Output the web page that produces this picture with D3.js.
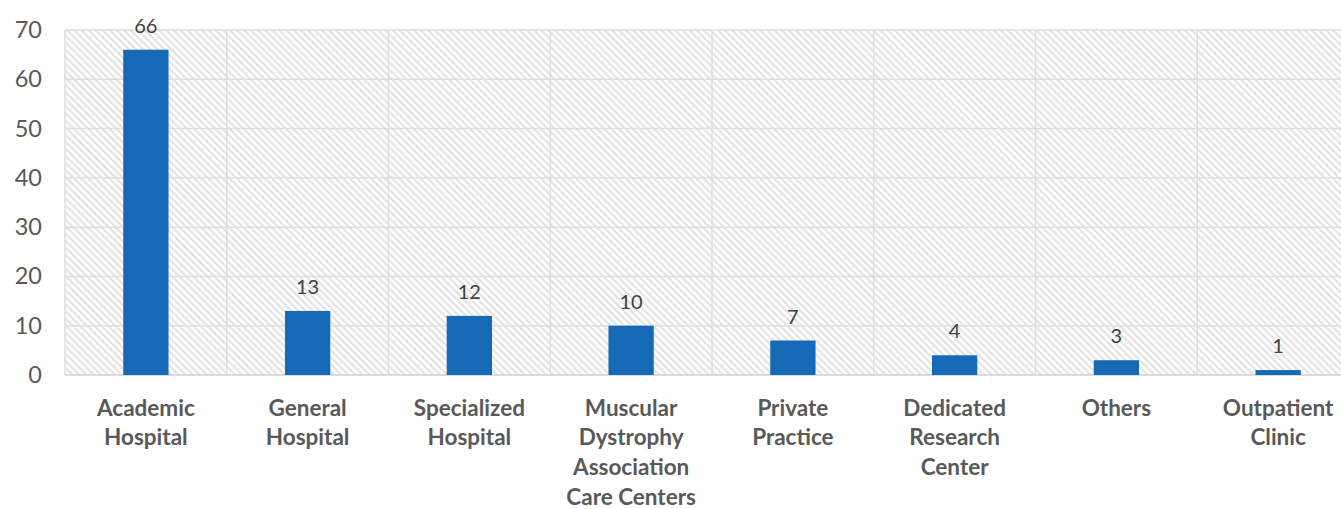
<!DOCTYPE html>
<html>
<head>
<meta charset="utf-8">
<script src="https://cdn.jsdelivr.net/npm/d3@7"></script>
<style>
  html, body { margin: 0; padding: 0; background: #fff; }
  svg { display: block; }
  text { font-family: Lato, "Noto Sans", sans-serif; }
</style>
</head>
<body>
<svg id="chart" width="1341" height="509"></svg>
<script>
// Number of sites by institution type
const categories = [
  ["Academic", "Hospital"],
  ["General", "Hospital"],
  ["Specialized", "Hospital"],
  ["Muscular", "Dystrophy", "Association", "Care Centers"],
  ["Private", "Practice"],
  ["Dedicated", "Research", "Center"],
  ["Others"],
  ["Outpatient", "Clinic"]
];
const values = [66, 13, 12, 10, 7, 4, 3, 1];
const yTicks = [0, 10, 20, 30, 40, 50, 60, 70];

const svg = d3.select("#chart");
const margin = { left: 65, top: 30, bottom: 134 };
const plotW = 1294; // plot extends past the right edge of the window
const H = 509;

const keys = categories.map(c => c.join(" "));
const x = d3.scaleBand().domain(keys).range([margin.left, margin.left + plotW]).paddingInner(0.72).paddingOuter(0.36);
const xCell = d3.scaleBand().domain(keys).range([margin.left, margin.left + plotW]);
const y = d3.scaleLinear().domain([0, 70]).range([H - margin.bottom, margin.top]);

// diagonal hatch fill for the plot area
const defs = svg.append("defs");
const pat = defs.append("pattern")
  .attr("id", "hatch")
  .attr("patternUnits", "userSpaceOnUse")
  .attr("width", 5).attr("height", 5)
  .attr("patternTransform", "rotate(-45)");
pat.append("rect").attr("width", 5).attr("height", 5).attr("fill", "#ffffff");
pat.append("line").attr("x1", 1.25).attr("y1", 0).attr("x2", 1.25).attr("y2", 5)
  .attr("stroke", "#e0e0e0").attr("stroke-width", 2);

svg.append("rect")
  .attr("x", margin.left).attr("y", y(70))
  .attr("width", plotW).attr("height", y(0) - y(70))
  .attr("fill", "url(#hatch)");

// horizontal gridlines
svg.append("g").selectAll("line").data(yTicks).join("line")
  .attr("x1", margin.left).attr("x2", margin.left + plotW)
  .attr("y1", d => y(d)).attr("y2", d => y(d))
  .attr("stroke", d => d === 0 ? "#d0d0d0" : "#dedede").attr("stroke-width", 1.5);

// vertical gridlines at category boundaries
svg.append("g").selectAll("line").data(keys).join("line")
  .attr("x1", d => xCell(d)).attr("x2", d => xCell(d))
  .attr("y1", y(70)).attr("y2", y(0))
  .attr("stroke", "#dedede").attr("stroke-width", 1.5);

// y axis labels
const yAxis = d3.axisLeft(y).tickValues(yTicks).tickSize(0).tickPadding(0);
const gy = svg.append("g").attr("transform", `translate(42,0)`).call(yAxis);
gy.select(".domain").remove();
gy.selectAll("text").attr("fill", "#595959").style("font-size", "23.5px").style("font-family", "Lato, sans-serif");

// bars
svg.append("g").selectAll("rect").data(values).join("rect")
  .attr("x", (d, i) => x(keys[i]))
  .attr("y", d => y(d))
  .attr("width", x.bandwidth())
  .attr("height", d => y(0) - y(d))
  .attr("fill", "#1569b5");

// value labels
svg.append("g").selectAll("text").data(values).join("text")
  .attr("x", (d, i) => x(keys[i]) + x.bandwidth() / 2)
  .attr("y", d => y(d) - 17)
  .attr("text-anchor", "middle")
  .attr("fill", "#404040")
  .style("font-size", "20px")
  .text(d => d);

// category labels
const xAxis = d3.axisBottom(xCell).tickSize(0).tickFormat(() => "");
const gx = svg.append("g").attr("transform", `translate(0,${y(0)})`).call(xAxis);
gx.select(".domain").remove();
gx.selectAll(".tick").each(function(d, i) {
  const t = d3.select(this).append("text")
    .attr("text-anchor", "middle")
    .attr("fill", "#595959")
    .style("font-size", "22.5px")
    .style("font-weight", "bold")
    .style("font-family", "Lato, sans-serif");
  categories[i].forEach((line, j) => {
    t.append("tspan").attr("x", 0).attr("y", 40.5 + j * 29.8).text(line);
  });
});
</script>
</body>
</html>
